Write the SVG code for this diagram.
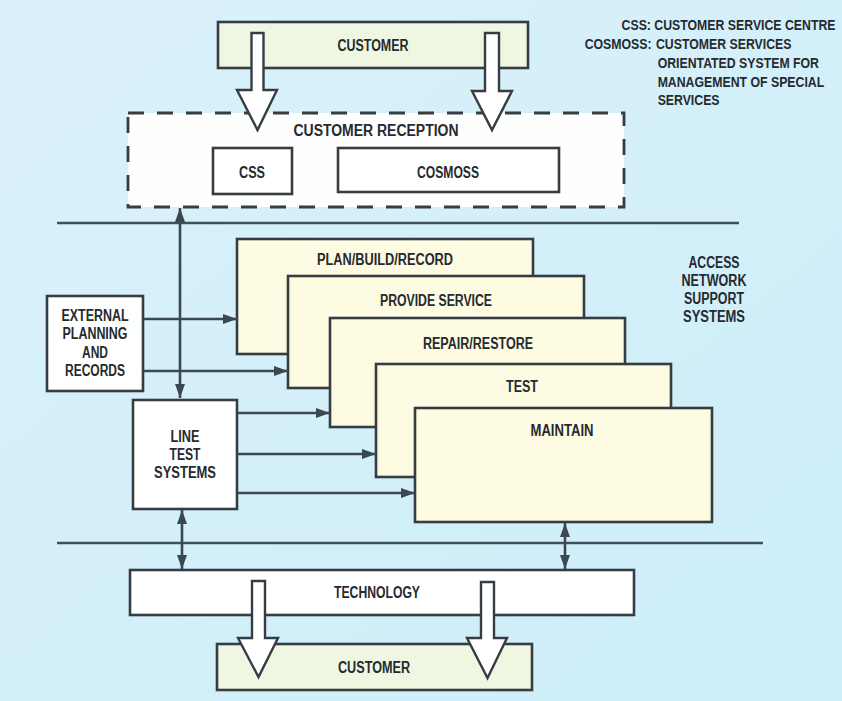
<svg xmlns="http://www.w3.org/2000/svg" width="842" height="701" viewBox="0 0 842 701">
  <defs>
    <linearGradient id="bg" x1="0" y1="0" x2="1" y2="1">
      <stop offset="0" stop-color="#dbf1f9"/>
      <stop offset="1" stop-color="#cceefa"/>
    </linearGradient>
    <marker id="ah" viewBox="0 0 14 10" refX="14" refY="5" markerWidth="14" markerHeight="10" markerUnits="userSpaceOnUse" orient="auto-start-reverse">
      <path d="M0,0 L14,5 L0,10 Z" fill="#3b4850"/>
    </marker>
    <style>
      text { font-family: "Liberation Sans", Arial, sans-serif; font-weight: bold; fill: #262a2e; }
      .lbl { font-size: 16px; }
      .leg { font-size: 15px; }
      .mid { text-anchor: middle; }
      .box { stroke: #353d42; stroke-width: 2.6; }
      .white { fill: #ffffff; }
      .cust { fill: #eff7e2; }
      .sys { fill: #fdfbe2; }
      .dash { fill: #fefefe; stroke: #353d42; stroke-width: 2.8; stroke-dasharray: 16 13; }
      .conn { stroke: #3b4850; stroke-width: 2.6; fill: none; }
      .rule { stroke: #3f5058; stroke-width: 2.6; fill: none; }
      .hollow { fill: #ffffff; stroke: #353d42; stroke-width: 2.4; stroke-linejoin: miter; }
    </style>
  </defs>

  <rect width="842" height="701" fill="url(#bg)"/>

  <!-- legend, set in a horizontally condensed group -->
  <g id="legend" transform="scale(0.82,1)">
    <text class="leg" x="758" y="30">CSS: CUSTOMER SERVICE CENTRE</text>
    <text class="leg" x="713" y="49">COSMOSS:</text>
    <text class="leg" x="800" y="49">CUSTOMER SERVICES</text>
    <text class="leg" x="802" y="68">ORIENTATED SYSTEM FOR</text>
    <text class="leg" x="802" y="87">MANAGEMENT OF SPECIAL</text>
    <text class="leg" x="802" y="105">SERVICES</text>
  </g>

  <!-- horizontal separators -->
  <g id="rules">
    <line class="rule" x1="57" y1="223" x2="739" y2="223"/>
    <line class="rule" x1="57" y1="543" x2="763" y2="543"/>
  </g>

  <g id="customer-top">
    <rect class="box cust" x="218" y="22" width="310" height="46"/>
    <text class="lbl mid" x="373" y="51" textLength="71" lengthAdjust="spacingAndGlyphs">CUSTOMER</text>
  </g>

  <g id="customer-reception">
    <rect class="dash" x="128" y="113" width="496" height="94"/>
    <text class="lbl mid" x="376" y="136" textLength="165" lengthAdjust="spacingAndGlyphs">CUSTOMER RECEPTION</text>
  </g>
  <g id="css">
    <rect class="box white" x="213" y="148" width="79" height="46"/>
    <text class="lbl mid" x="252" y="178" textLength="26" lengthAdjust="spacingAndGlyphs">CSS</text>
  </g>
  <g id="cosmoss">
    <rect class="box white" x="338" y="148" width="221" height="44"/>
    <text class="lbl mid" x="448" y="178" textLength="62" lengthAdjust="spacingAndGlyphs">COSMOSS</text>
  </g>

  <g id="access-label">
    <text class="lbl mid" x="714" y="268" textLength="51" lengthAdjust="spacingAndGlyphs">ACCESS</text>
    <text class="lbl mid" x="714" y="286" textLength="65" lengthAdjust="spacingAndGlyphs">NETWORK</text>
    <text class="lbl mid" x="714" y="304" textLength="60" lengthAdjust="spacingAndGlyphs">SUPPORT</text>
    <text class="lbl mid" x="714" y="322" textLength="62" lengthAdjust="spacingAndGlyphs">SYSTEMS</text>
  </g>

  <!-- stacked support-system cards -->
  <g id="plan-build-record">
    <rect class="box sys" x="237" y="239" width="296" height="115"/>
    <text class="lbl mid" x="385" y="265" textLength="136" lengthAdjust="spacingAndGlyphs">PLAN/BUILD/RECORD</text>
  </g>
  <g id="provide-service">
    <rect class="box sys" x="288" y="276" width="296" height="112"/>
    <text class="lbl mid" x="436" y="306" textLength="112" lengthAdjust="spacingAndGlyphs">PROVIDE SERVICE</text>
  </g>
  <g id="repair-restore">
    <rect class="box sys" x="330" y="318" width="295" height="109"/>
    <text class="lbl mid" x="478" y="349" textLength="110" lengthAdjust="spacingAndGlyphs">REPAIR/RESTORE</text>
  </g>
  <g id="test">
    <rect class="box sys" x="376" y="364" width="295" height="113"/>
    <text class="lbl mid" x="522" y="392" textLength="32" lengthAdjust="spacingAndGlyphs">TEST</text>
  </g>
  <g id="maintain">
    <rect class="box sys" x="415" y="408" width="297" height="114"/>
    <text class="lbl mid" x="562" y="436" textLength="63" lengthAdjust="spacingAndGlyphs">MAINTAIN</text>
  </g>

  <g id="external-planning">
    <rect class="box white" x="47" y="296" width="96" height="95"/>
    <text class="lbl mid" x="95" y="321" textLength="67" lengthAdjust="spacingAndGlyphs">EXTERNAL</text>
    <text class="lbl mid" x="95" y="339" textLength="65" lengthAdjust="spacingAndGlyphs">PLANNING</text>
    <text class="lbl mid" x="95" y="358" textLength="26" lengthAdjust="spacingAndGlyphs">AND</text>
    <text class="lbl mid" x="95" y="376" textLength="60" lengthAdjust="spacingAndGlyphs">RECORDS</text>
  </g>

  <g id="line-test-systems">
    <rect class="box white" x="133" y="400" width="104" height="109"/>
    <text class="lbl mid" x="185" y="442" textLength="29" lengthAdjust="spacingAndGlyphs">LINE</text>
    <text class="lbl mid" x="185" y="460" textLength="31" lengthAdjust="spacingAndGlyphs">TEST</text>
    <text class="lbl mid" x="185" y="478" textLength="62" lengthAdjust="spacingAndGlyphs">SYSTEMS</text>
  </g>

  <g id="technology">
    <rect class="box white" x="130" y="570" width="504" height="45"/>
    <text class="lbl mid" x="377" y="598" textLength="86" lengthAdjust="spacingAndGlyphs">TECHNOLOGY</text>
  </g>

  <g id="customer-bottom">
    <rect class="box cust" x="217" y="644" width="315" height="46"/>
    <text class="lbl mid" x="374" y="673" textLength="72" lengthAdjust="spacingAndGlyphs">CUSTOMER</text>
  </g>

  <!-- connectors -->
  <g id="connectors">
    <line class="conn" x1="180" y1="208" x2="180" y2="398" marker-start="url(#ah)" marker-end="url(#ah)"/>
    <line class="conn" x1="143" y1="319" x2="237" y2="319" marker-end="url(#ah)"/>
    <line class="conn" x1="143" y1="371" x2="288" y2="371" marker-end="url(#ah)"/>
    <line class="conn" x1="237" y1="413" x2="330" y2="413" marker-end="url(#ah)"/>
    <line class="conn" x1="237" y1="454" x2="376" y2="454" marker-end="url(#ah)"/>
    <line class="conn" x1="237" y1="493" x2="415" y2="493" marker-end="url(#ah)"/>
    <line class="conn" x1="182" y1="510" x2="182" y2="569" marker-start="url(#ah)" marker-end="url(#ah)"/>
    <line class="conn" x1="565" y1="523" x2="565" y2="569" marker-start="url(#ah)" marker-end="url(#ah)"/>

    <!-- broad hollow flow arrows -->
    <path class="hollow" d="M251.5,33 H263.5 V90 H277 L257.5,130 L237,90 H251.5 Z"/>
    <path class="hollow" d="M485,33 H499 V91 H512 L492,130 L472,91 H485 Z"/>
    <path class="hollow" d="M252,581 H265 V638 H278 L258.5,677 L238,638 H252 Z"/>
    <path class="hollow" d="M481,582 H494 V638 H507 L487.5,678 L467,638 H481 Z"/>
  </g>
</svg>
